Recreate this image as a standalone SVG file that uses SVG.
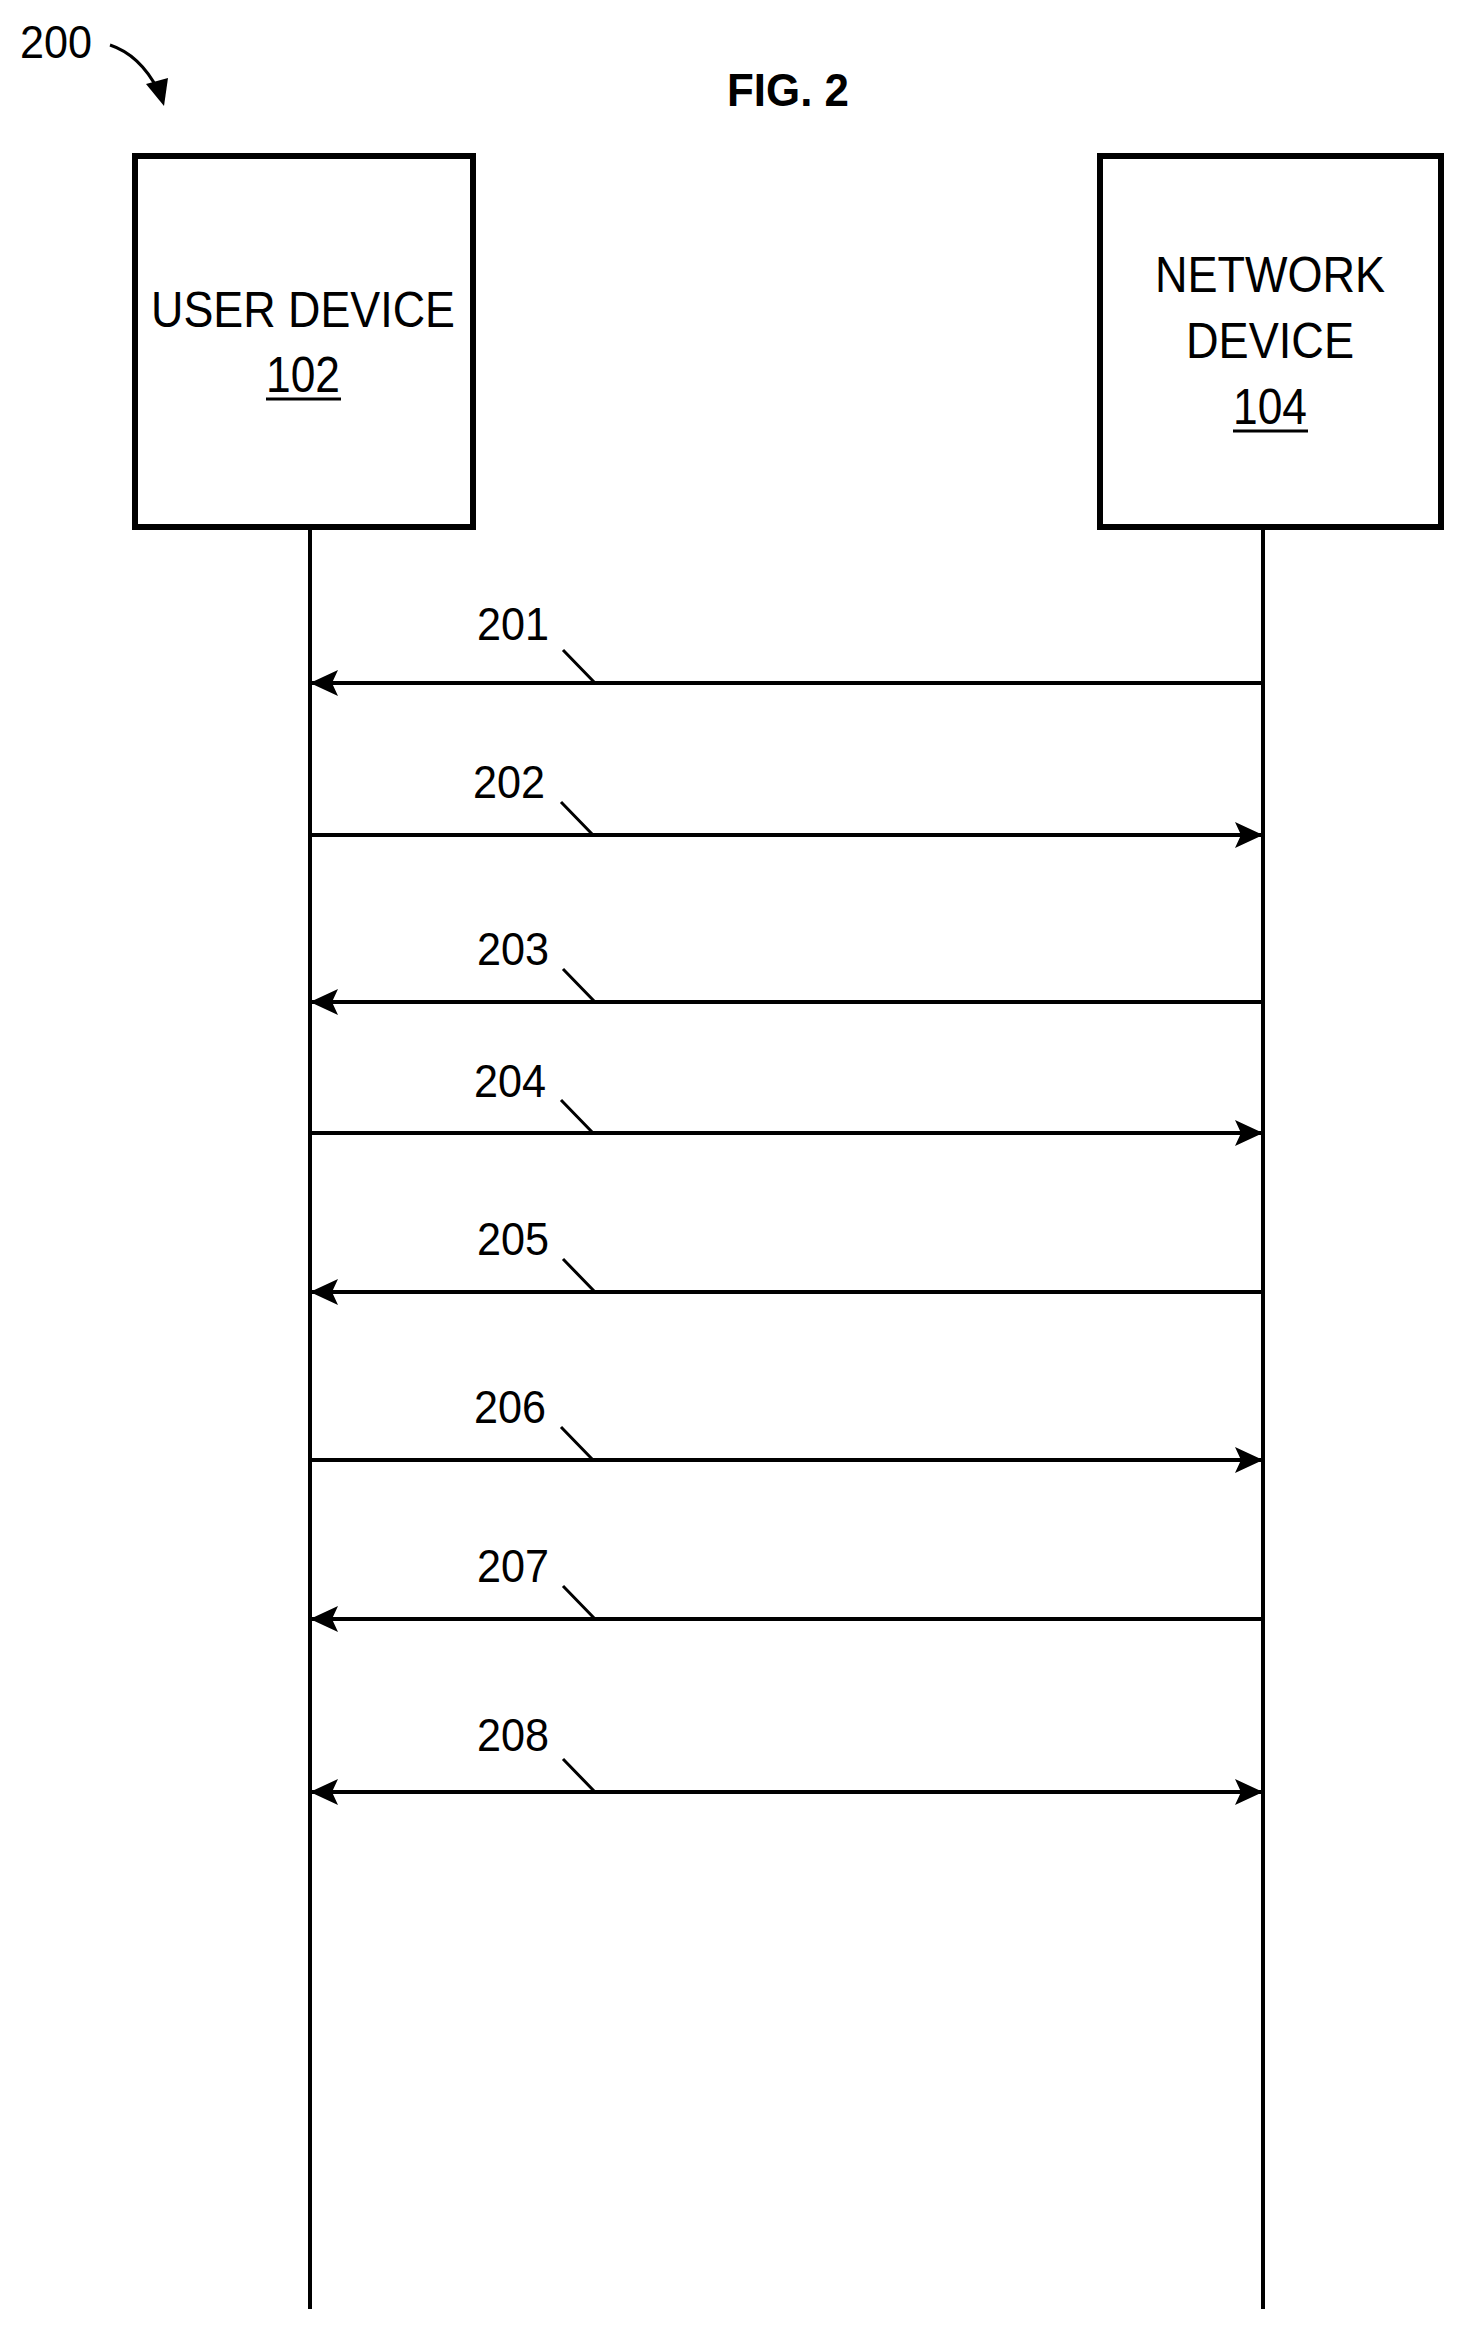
<svg xmlns="http://www.w3.org/2000/svg" width="1464" height="2330" viewBox="0 0 1464 2330">
<defs>
<style>
text{font-family:"Liberation Sans Narrow","Liberation Sans",Arial,sans-serif;fill:#000}
.box{fill:#fff;stroke:#000;stroke-width:6}
.life{stroke:#000;stroke-width:4;fill:none}
.msg{stroke:#000;stroke-width:4;fill:none}
.tick{stroke:#000;stroke-width:3;fill:none}
.lbl{font-size:46px;text-anchor:middle}
.node{font-size:50px;text-anchor:middle}
</style>
<marker id="ah" viewBox="0 0 28 26" refX="28" refY="13" markerWidth="28" markerHeight="26" markerUnits="userSpaceOnUse" orient="auto-start-reverse">
<path d="M0,0 L28,13 L0,26 L6,13 Z" fill="#000"/>
</marker>
</defs>
<rect width="1464" height="2330" fill="#fff"/>
<text x="56" y="58" class="lbl" textLength="72" lengthAdjust="spacingAndGlyphs">200</text>
<path d="M110,45 Q140,55 158,90" class="tick" stroke-width="4"/>
<path d="M146,84 L164,106 L168,78 Z" fill="#000"/>
<text x="788" y="106" font-size="46" font-weight="bold" text-anchor="middle" textLength="122" lengthAdjust="spacingAndGlyphs">FIG. 2</text>
<g id="user-device">
<rect class="box" x="135" y="156" width="338" height="371"/>
<text x="303" y="327" class="node" textLength="304" lengthAdjust="spacingAndGlyphs">USER DEVICE</text>
<text x="303" y="392" class="node" textLength="74" lengthAdjust="spacingAndGlyphs">102</text>
<line x1="266" y1="399" x2="341" y2="399" stroke="#000" stroke-width="3"/>
</g>
<g id="network-device">
<rect class="box" x="1100" y="156" width="341" height="371"/>
<text x="1270" y="292" class="node" textLength="230" lengthAdjust="spacingAndGlyphs">NETWORK</text>
<text x="1270" y="358" class="node" textLength="168" lengthAdjust="spacingAndGlyphs">DEVICE</text>
<text x="1270" y="424" class="node" textLength="74" lengthAdjust="spacingAndGlyphs">104</text>
<line x1="1233" y1="431" x2="1308" y2="431" stroke="#000" stroke-width="3"/>
</g>
<g id="connectors">
<line class="life" x1="310" y1="527" x2="310" y2="2309"/>
<line class="life" x1="1263" y1="527" x2="1263" y2="2309"/>
<line class="msg" x1="1263" y1="683" x2="310" y2="683" marker-end="url(#ah)"/>
<line class="msg" x1="310" y1="835" x2="1263" y2="835" marker-end="url(#ah)"/>
<line class="msg" x1="1263" y1="1002" x2="310" y2="1002" marker-end="url(#ah)"/>
<line class="msg" x1="310" y1="1133" x2="1263" y2="1133" marker-end="url(#ah)"/>
<line class="msg" x1="1263" y1="1292" x2="310" y2="1292" marker-end="url(#ah)"/>
<line class="msg" x1="310" y1="1460" x2="1263" y2="1460" marker-end="url(#ah)"/>
<line class="msg" x1="1263" y1="1619" x2="310" y2="1619" marker-end="url(#ah)"/>
<line class="msg" x1="310" y1="1792" x2="1263" y2="1792" marker-start="url(#ah)" marker-end="url(#ah)"/>
<path class="tick" d="M563,650 L595,683 M561,802 L593,835 M563,969 L595,1002 M561,1100 L593,1133 M563,1259 L595,1292 M561,1427 L593,1460 M563,1586 L595,1619 M563,1759 L595,1792"/>
</g>
<g id="labels">
<text x="513" y="640" class="lbl" textLength="72" lengthAdjust="spacingAndGlyphs">201</text>
<text x="509" y="798" class="lbl" textLength="72" lengthAdjust="spacingAndGlyphs">202</text>
<text x="513" y="965" class="lbl" textLength="72" lengthAdjust="spacingAndGlyphs">203</text>
<text x="510" y="1097" class="lbl" textLength="72" lengthAdjust="spacingAndGlyphs">204</text>
<text x="513" y="1255" class="lbl" textLength="72" lengthAdjust="spacingAndGlyphs">205</text>
<text x="510" y="1423" class="lbl" textLength="72" lengthAdjust="spacingAndGlyphs">206</text>
<text x="513" y="1582" class="lbl" textLength="72" lengthAdjust="spacingAndGlyphs">207</text>
<text x="513" y="1751" class="lbl" textLength="72" lengthAdjust="spacingAndGlyphs">208</text>
</g>
</svg>
